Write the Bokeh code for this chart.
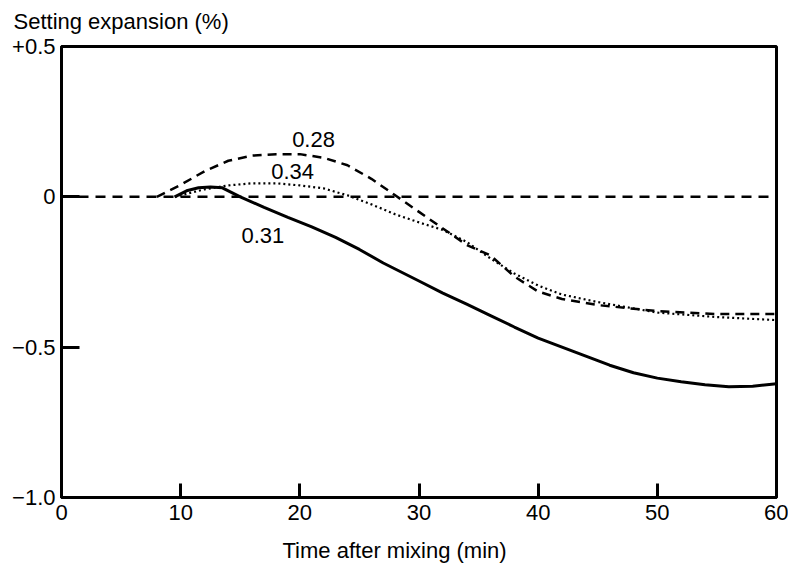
from bokeh.plotting import figure
from bokeh.models import Label, FixedTicker, Range1d, Title, LinearAxis
from bokeh.embed import file_html
from bokeh.resources import INLINE

# ---- data ----
x_base = [0, 60]
y_base = [0, 0]

x28 = [8, 10, 12, 14, 16, 18, 20, 22, 24, 26, 28, 30, 32, 34, 36, 38, 40, 42, 45, 50, 55, 60]
y28 = [0, 0.04, 0.085, 0.12, 0.137, 0.142, 0.142, 0.13, 0.105, 0.06, 0.005, -0.05,
       -0.105, -0.16, -0.195, -0.265, -0.315, -0.34, -0.36, -0.38, -0.39, -0.39]

x34 = [9.5, 10, 12, 14, 16, 18, 20, 22, 24, 26, 28, 30, 32, 34, 36, 38, 40, 42, 45, 50, 55, 60]
y34 = [0, 0.005, 0.025, 0.038, 0.045, 0.045, 0.038, 0.028, 0.005, -0.025, -0.058, -0.085,
       -0.11, -0.15, -0.205, -0.255, -0.295, -0.325, -0.35, -0.385, -0.4, -0.41]

x31 = [9.5, 10.5, 11.5, 12.5, 13.5, 15, 17, 19, 21, 23, 25, 27, 30, 32, 34, 36, 38,
       40, 42, 44, 46, 48, 50, 52, 54, 56, 58, 60]
y31 = [0, 0.02, 0.03, 0.033, 0.03, 0.0, -0.035, -0.068, -0.1, -0.135, -0.175, -0.22,
       -0.28, -0.32, -0.357, -0.395, -0.433, -0.47, -0.5, -0.53, -0.56, -0.585, -0.603,
       -0.615, -0.625, -0.632, -0.63, -0.622]

curve_names = ["0.28", "0.34", "0.31"]
x_ticks = [0, 10, 20, 30, 40, 50, 60]
x_tick_labels = ["0", "10", "20", "30", "40", "50", "60"]
y_ticks = [0.5, 0, -0.5, -1.0]
y_tick_labels = ["+0.5", "0", "\u22120.5", "\u22121.0"]

FONT = "Liberation Sans"
FS = "22px"

p = figure(width=788, height=568, output_backend="svg", toolbar_location=None,
           x_range=Range1d(0, 60), y_range=Range1d(-1.0, 0.5),
           min_border_left=61, min_border_right=12, min_border_top=46, min_border_bottom=71)
p.xgrid.visible = False
p.ygrid.visible = False
p.outline_line_color = "black"
p.outline_line_width = 3
p.outline_line_alpha = 1
p.background_fill_color = "white"
p.border_fill_color = "white"

for ax in (p.xaxis[0], p.yaxis[0]):
    ax.axis_line_width = 3
    ax.axis_line_color = "black"
    ax.major_tick_line_width = 3
    ax.major_tick_line_color = "black"
    ax.major_tick_out = 0
    ax.minor_tick_line_color = None
    ax.major_label_text_font = FONT
    ax.major_label_text_font_size = FS
    ax.major_label_text_color = "black"

p.xaxis[0].ticker = FixedTicker(ticks=x_ticks)
p.xaxis[0].major_label_overrides = dict(zip(x_ticks, x_tick_labels))
p.xaxis[0].major_tick_in = 14
p.xaxis[0].major_label_standoff = 7
# invisible spacer label to push the title below down a little
p.xaxis[0].axis_label = " "
p.xaxis[0].axis_label_text_font_size = "1px"
p.xaxis[0].axis_label_standoff = 4

p.yaxis[0].ticker = FixedTicker(ticks=y_ticks)
p.yaxis[0].major_label_overrides = dict(zip(y_ticks, y_tick_labels))
p.yaxis[0].major_tick_in = 18
p.yaxis[0].major_label_standoff = 6

# invisible top spacer axis to lift the top title
top_ax = LinearAxis(ticker=FixedTicker(ticks=[]), axis_line_color=None,
                    major_tick_line_color=None, minor_tick_line_color=None,
                    major_label_text_font_size="1px", axis_label=" ",
                    axis_label_text_font_size="1px", axis_label_standoff=4)
p.add_layout(top_ax, "above")

# curves
p.line(x_base, y_base, line_color="black", line_width=2.5, line_dash="10 7")
p.line(x28, y28, line_color="black", line_width=2.5, line_dash="9 6")
p.line(x34, y34, line_color="black", line_width=2.2, line_dash="2 3")
p.line(x31, y31, line_color="black", line_width=3)

# curve labels
for txt, lx, ly in zip(curve_names, [21.15, 19.4, 16.9], [0.19, 0.084, -0.13]):
    p.add_layout(Label(x=lx, y=ly, text=txt, text_font=FONT, text_font_size=FS,
                       text_align="center", text_baseline="middle", text_color="black"))

# axis titles
p.title.text = "Setting expansion (%)"
p.title.text_font = FONT
p.title.text_font_size = FS
p.title.text_font_style = "normal"
p.title.text_color = "black"
p.title.align = "left"
p.title.offset = -48

xt = Title(text="Time after mixing (min)", text_font=FONT, text_font_size=FS,
           text_font_style="normal", text_color="black", align="left", offset=221)
p.add_layout(xt, "below")

open("out.html", "w").write(file_html(p, INLINE))
